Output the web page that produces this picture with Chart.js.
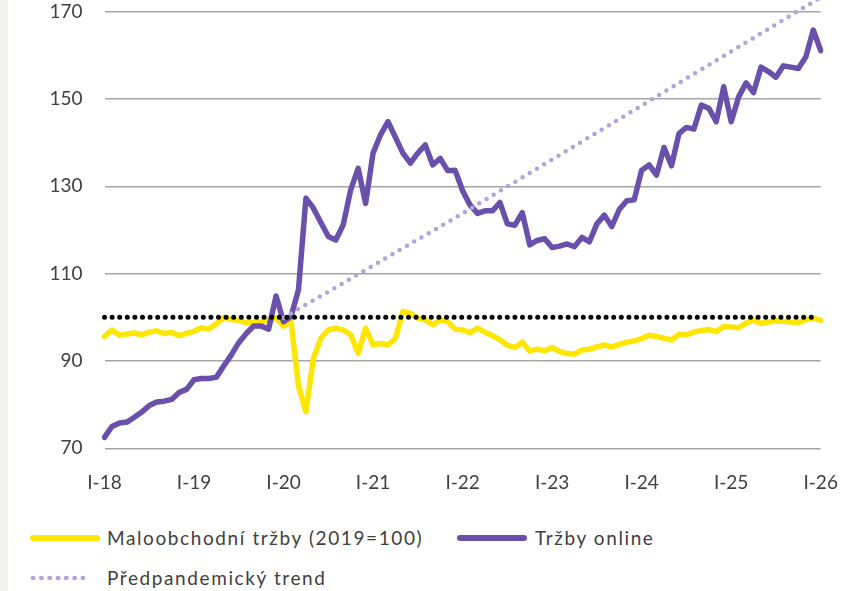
<!DOCTYPE html>
<html>
<head>
<meta charset="utf-8">
<script src="https://cdn.jsdelivr.net/npm/chart.js@4.4.1/dist/chart.umd.min.js"></script>
<style>
  html, body { margin: 0; padding: 0; background: #fff; }
  body { width: 845px; height: 591px; position: relative; overflow: hidden;
         font-family: Lato, "Open Sans", sans-serif; color: #404040; }
  #strip { position: absolute; left: 0; top: 0; width: 8px; height: 591px; background: #f3f2ee; }
  #chart { position: absolute; left: 0; top: 0; }
  .swatch { position: absolute; height: 6px; border-radius: 3px; }
  .dots { position: absolute; height: 6px;
          background: radial-gradient(circle, #b3a3d8 2.1px, transparent 2.6px) 0 0 / 8.3px 6px repeat-x; }
  .txt { position: absolute; font-size: 19px; line-height: 24px; letter-spacing: 1.6px; white-space: nowrap; }
</style>
</head>
<body>
<div id="strip"></div>
<canvas id="chart" width="845" height="500"></canvas>

<div class="swatch" style="left:30px; top:535px; width:70px; background:#ffe600;"></div>
<div class="txt" style="left:107px; top:526px;">Maloobchodní tržby (2019=100)</div>
<div class="swatch" style="left:457px; top:535px; width:70px; background:#6a4fab;"></div>
<div class="txt" style="left:535px; top:526px;">Tržby online</div>
<div class="dots" style="left:29px; top:575px; width:60px;"></div>
<div class="txt" style="left:107px; top:566px;">Předpandemický trend</div>

<script>
// ---------------------
// Data (monthly, I-18 .. I-26)
// ---------------------
const romanMonths = ["I", "II", "III", "IV", "V", "VI", "VII", "VIII", "IX", "X", "XI", "XII"];
const years = ["18", "19", "20", "21", "22", "23", "24", "25", "26"];

const monthLabels = [];
years.forEach(y => romanMonths.forEach(m => monthLabels.push(m + "-" + y)));
monthLabels.length = 97; // končí I-26

// Maloobchodní tržby (2019=100)
const retailSales = [
  95.6, 97.1, 95.9, 96.2, 96.4, 96.0, 96.6, 96.9, 96.3, 96.6, 95.8, 96.3,
  96.8, 97.6, 97.3, 98.5, 100.0, 99.5, 99.3, 98.7, 98.9, 99.0, 99.2, 99.9,
  98.0, 99.0, 84.3, 78.4, 90.6, 95.2, 97.1, 97.5, 97.1, 96.0, 91.8, 97.5,
  93.7, 94.0, 93.7, 95.2, 101.3, 100.9, 99.8, 99.4, 98.3, 99.4, 99.0, 97.3,
  97.1, 96.5, 97.5, 96.6, 95.8, 94.9, 93.6, 93.1, 94.3, 92.3, 92.7, 92.3,
  93.1, 92.2, 91.7, 91.6, 92.5, 92.7, 93.2, 93.7, 93.2, 93.8, 94.3, 94.6,
  95.1, 95.9, 95.6, 95.2, 94.8, 96.1, 96.0, 96.6, 97.0, 97.2, 96.7, 97.9,
  97.8, 97.6, 98.7, 99.4, 98.6, 98.9, 99.2, 99.1, 98.9, 98.8, 99.4, 99.8,
  99.3
];

// Tržby online
const onlineSales = [
  72.5, 75.0, 75.8, 76.0, 77.1, 78.3, 79.8, 80.6, 80.8, 81.2, 82.8, 83.5,
  85.7, 86.0, 86.0, 86.3, 88.9, 91.4, 94.2, 96.3, 98.0, 98.0, 97.3, 104.9,
  99.0, 100.2, 106.3, 127.3, 125.0, 121.7, 118.5, 117.7, 121.2, 129.2, 134.1, 126.1,
  137.6, 141.8, 144.8, 141.2, 137.6, 135.3, 137.6, 139.5, 134.9, 136.4, 133.6, 133.7,
  129.0, 125.7, 123.8, 124.4, 124.4, 126.3, 121.4, 121.1, 124.0, 116.6, 117.6, 118.0,
  116.0, 116.3, 116.8, 116.2, 118.3, 117.3, 121.4, 123.4, 120.8, 124.7, 126.7, 126.9,
  133.7, 134.9, 132.6, 138.9, 134.7, 142.1, 143.5, 143.1, 148.6, 147.9, 144.8, 152.8,
  144.8, 150.5, 153.7, 151.5, 157.3, 156.3, 155.0, 157.6, 157.3, 157.0, 159.6, 165.8,
  161.1
];

// Předpandemický trend (odečtené body, mezi nimi přímka)
const trendPoints = [
  { x: "I-20", y: 99.9 },
  { x: "I-22", y: 123.8 },
  { x: "I-24", y: 148.5 },
  { x: "I-26", y: 173.3 }
];

// úroveň 100 (černá tečkovaná)
const parityLine = [
  { x: "I-18", y: 100 },
  { x: "XII-25", y: 100 }
];

const yTicks = [70, 90, 110, 130, 150, 170];

// ---------------------
// Chart
// ---------------------
Chart.defaults.font.family = "Lato, 'Open Sans', sans-serif";
Chart.defaults.font.size = 19;
Chart.defaults.color = "#404040";

new Chart(document.getElementById("chart"), {
  type: "line",
  data: {
    labels: monthLabels,
    datasets: [
      {
        label: "100",
        data: parityLine,
        borderColor: "#000",
        borderWidth: 5,
        borderDash: [0, 7.6],
        borderCapStyle: "round",
        pointRadius: 0,
        spanGaps: true
      },
      {
        label: "Předpandemický trend",
        data: trendPoints,
        borderColor: "#b3a3d8",
        borderWidth: 4.5,
        borderDash: [0, 8.4],
        borderCapStyle: "round",
        pointRadius: 0,
        spanGaps: true,
        clip: false
      },
      {
        label: "Tržby online",
        data: onlineSales,
        borderColor: "#6a4fab",
        borderWidth: 5.5,
        borderJoinStyle: "round",
        borderCapStyle: "round",
        pointRadius: 0,
        tension: 0
      },
      {
        label: "Maloobchodní tržby (2019=100)",
        data: retailSales,
        borderColor: "#ffe600",
        borderWidth: 5.5,
        borderJoinStyle: "round",
        borderCapStyle: "round",
        pointRadius: 0,
        tension: 0
      }
    ]
  },
  options: {
    responsive: false,
    animation: false,
    events: [],
    layout: { padding: { top: 11.7, right: 24.3, left: 0, bottom: 0 } },
    plugins: {
      legend: { display: false },
      tooltip: { enabled: false }
    },
    scales: {
      x: {
        type: "category",
        offset: false,
        grid: { display: false, drawTicks: false },
        border: { display: false },
        ticks: {
          autoSkip: false,
          maxRotation: 0,
          padding: 23,
          callback: (v, i) => (i % 12 === 0 ? monthLabels[i] : "")
        },
        afterFit: s => { s.height = 51.7; s.paddingLeft = 0; s.paddingRight = 0; }
      },
      y: {
        min: 70,
        max: 170,
        afterBuildTicks: s => { s.ticks = yTicks.map(v => ({ value: v })); },
        grid: { color: "#a6a6a6", lineWidth: 1.4, drawTicks: false },
        border: { display: false },
        ticks: { padding: 22 },
        afterFit: s => { s.width = 104.5; s.paddingTop = 0; s.paddingBottom = 0; }
      }
    }
  }
});
</script>
</body>
</html>
